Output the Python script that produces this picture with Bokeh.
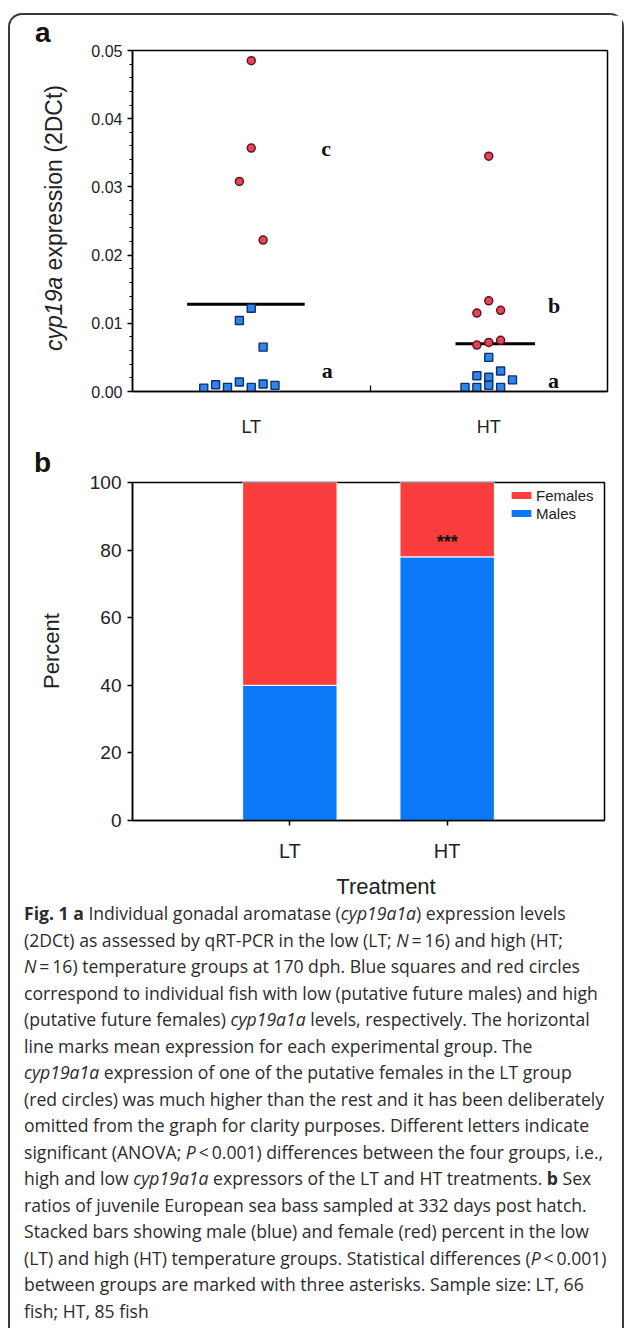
from bokeh.plotting import figure
from bokeh.models import (Label, FixedTicker, Legend, LegendItem, ColumnDataSource,
                          Div, Range1d, PrintfTickFormatter)
from bokeh.layouts import column, row
from bokeh.embed import file_html
from bokeh.resources import INLINE

# ---------------- data: panel a ----------------
groups_a = ["LT", "HT"]
lt_low = [0.0122, 0.0104, 0.0065, 0.0005, 0.0010, 0.0006, 0.0014, 0.0006, 0.0011, 0.0009]
lt_low_slot = [0, -1, 1, -4, -3, -2, -1, 0, 1, 2]
lt_high = [0.0485, 0.0357, 0.0308, 0.0222]
lt_high_slot = [0, 0, -1, 1]
ht_low = [0.0050, 0.0023, 0.0021, 0.0030, 0.0017, 0.0006, 0.0006, 0.0009, 0.0006]
ht_low_slot = [0, -1, 0, 1, 2, -2, -1, 0, 1]
ht_high = [0.0345, 0.0133, 0.0115, 0.0119, 0.0068, 0.0072, 0.0075]
ht_high_slot = [0, 0, -1, 1, -1, 0, 1]
group_mean = [0.0128, 0.0070]
yticks_a = [0.00, 0.01, 0.02, 0.03, 0.04, 0.05]

# ---------------- data: panel b ----------------
groups_b = ["LT", "HT"]
males_pct = [40, 78]
females_pct = [60, 22]
yticks_b = [0, 20, 40, 60, 80, 100]

# ---------------- style ----------------
FONT = "Liberation Sans"
SERIF = "Liberation Serif"
TXT = "#222222"
RED_F, RED_L = "#dc4a58", "#6a0f1e"
BLUE_F, BLUE_L = "#2f86e8", "#0d2f6e"
BAR_RED, BAR_BLUE = "#fb3d3d", "#0a78f7"
JIT = 0.1
MEAN_SPAN = [(-0.54, 0.45), (-0.28, 0.39)]
W = 612          # inner width of the framed figure
SIDE = 60        # width of the side strip holding panel letters / y titles


def centre(i):
    return 2 * i + 1


def style_axes(p):
    p.grid.visible = False
    p.outline_line_color = "black"
    p.outline_line_width = 1.5
    p.background_fill_color = "white"
    p.border_fill_color = "white"
    for ax in (p.xaxis[0], p.yaxis[0]):
        ax.axis_line_color = "black"
        ax.axis_line_width = 1.5
        ax.major_tick_line_color = "black"
        ax.major_tick_line_width = 1.5
        ax.minor_tick_line_color = "black"
        ax.minor_tick_line_width = 1.2
        ax.major_label_text_font = FONT
        ax.major_label_text_color = TXT


def side_div(height, letter, letter_left, letter_top, title_html, tx, ty, tsize):
    html = (
        f"<div style=\"position:relative;width:{SIDE}px;height:{height}px;"
        f"font-family:'{FONT}',Arial,sans-serif;color:{TXT};\">"
        f"<div style=\"position:absolute;left:{letter_left}px;top:{letter_top}px;"
        f"font-size:28px;font-weight:bold;line-height:1;color:#111;\">{letter}</div>"
        f"<div style=\"position:absolute;left:{tx}px;top:{ty}px;"
        f"transform:translate(-50%,-50%) rotate(-90deg);font-size:{tsize}px;"
        f"white-space:nowrap;line-height:1;\">{title_html}</div></div>"
    )
    return Div(text=html, width=SIDE, height=height, margin=0)


# ================= panel a =================
pa = figure(width=W - SIDE, height=430, x_range=Range1d(0, 4), y_range=Range1d(0, 0.05),
            output_backend="svg", toolbar_location=None,
            min_border_left=62, min_border_right=15, min_border_top=35, min_border_bottom=54)
style_axes(pa)

pa.xaxis.ticker = FixedTicker(ticks=[centre(0), centre(1)], minor_ticks=[2])
pa.xaxis.major_label_overrides = {centre(i): g for i, g in enumerate(groups_a)}
pa.xaxis.major_tick_out = 0
pa.xaxis.major_tick_in = 0
pa.xaxis.minor_tick_in = 6
pa.xaxis.minor_tick_out = 0
pa.xaxis.major_label_text_font_size = "18px"
pa.xaxis.major_label_standoff = 25

pa.yaxis.ticker = FixedTicker(ticks=yticks_a, minor_ticks=[k * 0.002 for k in range(26)])
pa.yaxis.formatter = PrintfTickFormatter(format="%.2f")
pa.yaxis.major_tick_out = 5
pa.yaxis.major_tick_in = 0
pa.yaxis.minor_tick_out = 3
pa.yaxis.minor_tick_in = 0
pa.yaxis.major_label_text_font_size = "16px"
pa.yaxis.major_label_standoff = 5

mx0 = [centre(i) + MEAN_SPAN[i][0] for i in range(len(groups_a))]
mx1 = [centre(i) + MEAN_SPAN[i][1] for i in range(len(groups_a))]
pa.segment(x0=mx0, y0=group_mean, x1=mx1, y1=group_mean, line_color="black", line_width=3)

low_x = [centre(0) + s * JIT for s in lt_low_slot] + [centre(1) + s * JIT for s in ht_low_slot]
low_y = lt_low + ht_low
high_x = [centre(0) + s * JIT for s in lt_high_slot] + [centre(1) + s * JIT for s in ht_high_slot]
high_y = lt_high + ht_high

pa.scatter(x=low_x, y=low_y, marker="square", size=8, fill_color=BLUE_F,
           line_color=BLUE_L, line_width=1.4)
pa.scatter(x=high_x, y=high_y, marker="circle", size=8, fill_color=RED_F,
           line_color=RED_L, line_width=1.5)

for txt, x, y in [("c", 1.63, 0.0356), ("a", 1.64, 0.0031), ("b", 3.55, 0.0126), ("a", 3.545, 0.0016)]:
    pa.add_layout(Label(x=x, y=y, text=txt, text_font=SERIF, text_font_style="bold",
                        text_font_size="22px", text_color="#111111",
                        text_align="center", text_baseline="middle"))

side_a = side_div(430, "a", 25, 4, "<i>cyp19a</i> expression (2DCt)", 44, 203, 23)

# ================= panel b =================
pb = figure(width=W - SIDE, height=425, x_range=Range1d(0, 3), y_range=Range1d(0, 100),
            output_backend="svg", toolbar_location=None,
            min_border_left=62, min_border_right=18, min_border_top=37, min_border_bottom=50)
style_axes(pb)

src = ColumnDataSource(dict(x=[i + 1 for i in range(len(groups_b))],
                            males=males_pct, females=females_pct))
rm, rf = pb.vbar_stack(["males", "females"], x="x", width=0.6, color=[BAR_BLUE, BAR_RED],
                       line_color="white", line_width=1, source=src)

pb.xaxis.ticker = FixedTicker(ticks=[i + 1 for i in range(len(groups_b))])
pb.xaxis.major_label_overrides = {i + 1: g for i, g in enumerate(groups_b)}
pb.xaxis.major_tick_out = 5
pb.xaxis.major_tick_in = 0
pb.xaxis.major_label_text_font_size = "20px"
pb.xaxis.major_label_standoff = 14

pb.yaxis.ticker = FixedTicker(ticks=yticks_b)
pb.yaxis.major_tick_out = 5
pb.yaxis.major_tick_in = 0
pb.yaxis.major_label_text_font_size = "19px"
pb.yaxis.major_label_standoff = 6

leg = Legend(items=[LegendItem(label="Females", renderers=[rf]),
                    LegendItem(label="Males", renderers=[rm])],
             location=(376, 298), glyph_width=26, glyph_height=10, label_height=18,
             label_text_font=FONT, label_text_font_size="15px", label_text_color=TXT,
             label_standoff=2, spacing=0, padding=0, margin=0,
             border_line_color=None, background_fill_alpha=0)
pb.add_layout(leg)

pb.add_layout(Label(x=2, y=82.5, text="***", text_font=FONT, text_font_style="bold",
                    text_font_size="18px", text_color="#111111",
                    text_align="center", text_baseline="middle"))

side_b = side_div(425, "b", 24, 4, "Percent", 42, 206, 22)

treat = Div(text=(f"<div style=\"position:relative;width:{W}px;height:30px;"
                  f"font-family:'{FONT}',Arial,sans-serif;color:{TXT};\">"
                  f"<div style=\"position:absolute;left:376px;top:17px;"
                  f"transform:translate(-50%,-50%);font-size:22px;line-height:1;"
                  f"white-space:nowrap;\">Treatment</div></div>"),
            width=W, height=30, margin=0)

# ================= caption =================
cap_lines = [
    "<b>Fig. 1 a</b> Individual gonadal aromatase (<i>cyp19a1a</i>) expression levels",
    "(2DCt) as assessed by qRT-PCR in the low (LT; <i>N</i>&#8201;=&#8201;16) and high (HT;",
    "<i>N</i>&#8201;=&#8201;16) temperature groups at 170 dph. Blue squares and red circles",
    "correspond to individual fish with low (putative future males) and high",
    "(putative future females) <i>cyp19a1a</i> levels, respectively. The horizontal",
    "line marks mean expression for each experimental group. The",
    "<i>cyp19a1a</i> expression of one of the putative females in the LT group",
    "(red circles) was much higher than the rest and it has been deliberately",
    "omitted from the graph for clarity purposes. Different letters indicate",
    "significant (ANOVA; <i>P</i>&#8201;&lt;&#8201;0.001) differences between the four groups, i.e.,",
    "high and low <i>cyp19a1a</i> expressors of the LT and HT treatments. <b>b</b> Sex",
    "ratios of juvenile European sea bass sampled at 332 days post hatch.",
    "Stacked bars showing male (blue) and female (red) percent in the low",
    "(LT) and high (HT) temperature groups. Statistical differences (<i>P</i>&#8201;&lt;&#8201;0.001)",
    "between groups are marked with three asterisks. Sample size: LT, 66",
    "fish; HT, 85 fish",
]
cap_html = ("<div style=\"font-family:'Open Sans',sans-serif;font-size:17.6px;line-height:26.5px;"
            "color:#2b2b2b;padding-left:14px;padding-top:0px;white-space:nowrap;\">"
            + "".join(f"<div>{l}</div>" for l in cap_lines) + "</div>")
cap = Div(text=cap_html, width=W, height=428, margin=0)

layout = column(row(side_a, pa, spacing=0), row(side_b, pb, spacing=0), treat, cap, spacing=0,
                styles={"border": "2px solid #3a3a3a", "border-bottom": "none",
                        "border-radius": "14px 14px 0 0",
                        "margin-top": "13px", "margin-left": "8px"})

open("out.html", "w").write(file_html(layout, INLINE))
